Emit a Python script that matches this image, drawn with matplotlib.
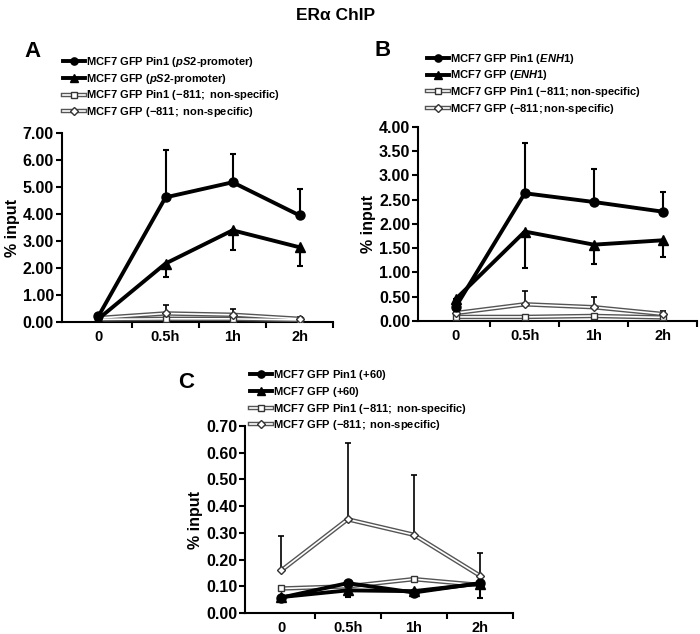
import numpy as np
import matplotlib
matplotlib.use('Agg')
import matplotlib.pyplot as plt
from matplotlib.ticker import FormatStrFormatter

plt.rcParams['font.family'] = 'Liberation Sans'
plt.rcParams['font.weight'] = 'bold'
plt.rcParams['mathtext.fontset'] = 'custom'
plt.rcParams['mathtext.rm'] = 'Liberation Sans:bold'
plt.rcParams['mathtext.it'] = 'Liberation Sans:bold:italic'

times = ['0', '0.5h', '1h', '2h']

# panel A
a_pin1 = [0.22, 4.62, 5.18, 3.95]
a_pin1_up = [0.0, 1.77, 1.04, 0.99]
a_gfp = [0.12, 2.17, 3.40, 2.77]
a_gfp_dn = [0.0, 0.49, 0.73, 0.68]
a_pin1_ns = [0.10, 0.12, 0.12, 0.08]
a_gfp_ns = [0.15, 0.32, 0.27, 0.12]
a_gfp_ns_up = [0.05, 0.30, 0.21, 0.05]

# panel B
b_pin1 = [0.29, 2.63, 2.45, 2.25]
b_pin1_up = [0.0, 1.03, 0.69, 0.41]
b_gfp = [0.45, 1.84, 1.57, 1.66]
b_gfp_dn = [0.0, 0.75, 0.39, 0.35]
b_pin1_ns = [0.08, 0.08, 0.10, 0.07]
b_gfp_ns = [0.16, 0.34, 0.28, 0.14]
b_gfp_ns_up = [0.0, 0.28, 0.22, 0.06]

# panel C
c_pin1 = [0.058, 0.112, 0.077, 0.112]
c_gfp = [0.060, 0.085, 0.082, 0.110]
c_gfp_dn = [0.02, 0.025, 0.0, 0.055]
c_pin1_ns = [0.092, 0.100, 0.127, 0.105]
c_gfp_ns = [0.160, 0.351, 0.293, 0.140]
c_gfp_ns_up = [0.128, 0.284, 0.222, 0.085]

labels_a = ['MCF7 GFP Pin1 ($pS2$-promoter)', 'MCF7 GFP ($pS2$-promoter)',
            'MCF7 GFP Pin1 ($-811;$ non-specific)', 'MCF7 GFP ($-811;$ non-specific)']
labels_b = ['MCF7 GFP Pin1 ($ENH1$)', 'MCF7 GFP ($ENH1$)',
            'MCF7 GFP Pin1 ($-811;$non-specific)', 'MCF7 GFP ($-811;$non-specific)']
labels_c = ['MCF7 GFP Pin1 ($+60$)', 'MCF7 GFP ($+60$)',
            'MCF7 GFP Pin1 ($-811;$ non-specific)', 'MCF7 GFP ($-811;$ non-specific)']

fig = plt.figure(figsize=(7, 6.34), dpi=100)
fig.text(0.48, 0.975, 'ER\u03b1 ChIP', ha='center', va='center', fontsize=12.5, fontweight='bold')

x = np.arange(4)


def panel(rect, ymax, ystep, s1, s1e, s2, s2e, s3, s4, s4e, labels, letter, lpos, legpos):
    ax = fig.add_axes(rect)
    ax.errorbar(x, s1, yerr=[np.zeros(4), s1e], fmt='none', ecolor='k', elinewidth=1.5, capsize=2.5, capthick=1.5, zorder=3)
    ax.errorbar(x, s2, yerr=[s2e, np.zeros(4)], fmt='none', ecolor='k',
                elinewidth=1.5, capsize=2.5, capthick=1.5, zorder=3)
    ax.errorbar(x, s4, yerr=[np.zeros(4), s4e], fmt='none', ecolor='k', elinewidth=1.2, capsize=2.5, capthick=1.2, zorder=2)
    h3a, = ax.plot(x, s3, color='#555555', lw=3.2, zorder=4)
    h3b, = ax.plot(x, s3, color='white', lw=1.2, marker='s', ms=5, mfc='white', mec='#333333', mew=1.0, zorder=5)
    h4a, = ax.plot(x, s4, color='#555555', lw=3.2, zorder=4)
    h4b, = ax.plot(x, s4, color='white', lw=1.2, marker='D', ms=4.5, mfc='white', mec='#333333', mew=1.0, zorder=5)
    h1, = ax.plot(x, s1, color='k', lw=2.8, marker='o', ms=6.5, zorder=6)
    h2, = ax.plot(x, s2, color='k', lw=2.8, marker='^', ms=6.5, zorder=6)
    ax.set_xlim(-0.55, 3.5)
    ax.set_ylim(0, ymax)
    ax.set_yticks(np.arange(0, ymax + ystep / 2, ystep))
    ax.yaxis.set_major_formatter(FormatStrFormatter('%.2f'))
    ax.set_xticks(x)
    ax.set_xticklabels(times)
    ax.set_xticks([0.5, 1.5, 2.5, 3.5], minor=True)
    ax.tick_params(axis='x', which='major', length=0, pad=6, labelsize=10.5)
    ax.tick_params(axis='x', which='minor', length=4, width=1.5, direction='out')
    ax.tick_params(axis='y', length=4, width=1.5, direction='out', labelsize=11.5, pad=1.5)
    for lab in ax.get_xticklabels() + ax.get_yticklabels():
        lab.set_fontweight('bold')
    ax.spines['top'].set_visible(False)
    ax.spines['right'].set_visible(False)
    ax.spines['left'].set_linewidth(1.5)
    ax.spines['bottom'].set_linewidth(1.5)
    ax.set_ylabel('% input', fontsize=11.5, fontweight='bold', labelpad=2)
    fig.text(lpos[0], lpos[1], letter, fontsize=16, fontweight='bold', ha='center', va='center')
    fig.legend([h1, h2, (h3a, h3b), (h4a, h4b)], labels, loc='lower left', bbox_to_anchor=legpos,
               frameon=False, fontsize=8, handlelength=2.0, handletextpad=0.1, labelspacing=0.25,
               borderpad=0, borderaxespad=0, markerscale=0.8)
    return ax


panel([0.088, 0.492, 0.388, 0.298], 7, 1, a_pin1, a_pin1_up, a_gfp, a_gfp_dn, a_pin1_ns, a_gfp_ns, a_gfp_ns_up,
      labels_a, 'A', (0.047, 0.919), (0.09, 0.812))
panel([0.597, 0.494, 0.399, 0.306], 4, 0.5, b_pin1, b_pin1_up, b_gfp, b_gfp_dn, b_pin1_ns, b_gfp_ns, b_gfp_ns_up,
      labels_b, 'B', (0.547, 0.92), (0.61, 0.817))
panel([0.35, 0.033, 0.383, 0.295], 0.7, 0.1, c_pin1, [0, 0, 0, 0], c_gfp, c_gfp_dn, c_pin1_ns, c_gfp_ns, c_gfp_ns_up,
      labels_c, 'C', (0.266, 0.396), (0.357, 0.318))

plt.savefig('out.png', dpi=100)
